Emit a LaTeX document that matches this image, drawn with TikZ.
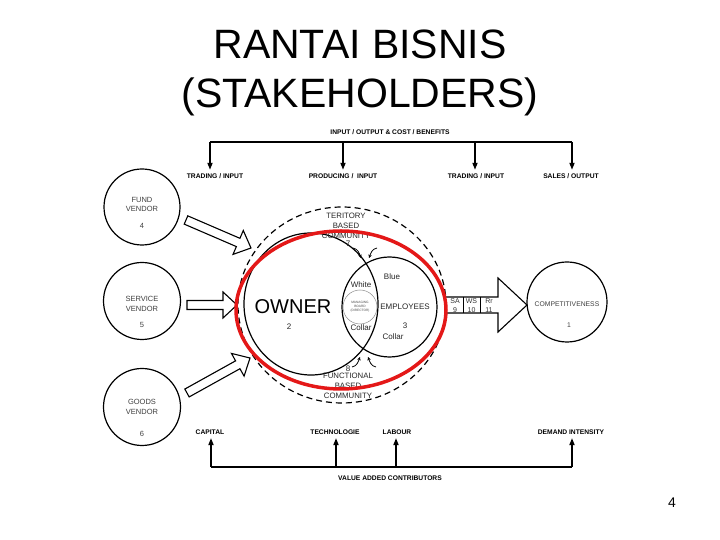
\documentclass[tikz,border=0pt]{standalone}
\usepackage{fontspec}
\setmainfont{Liberation Sans}
\usetikzlibrary{shapes.geometric,arrows.meta,calc}
\definecolor{redring}{RGB}{228,24,24}
\begin{document}
\begin{tikzpicture}[x=1pt,y=1pt,
  lbl/.style={font=\fontsize{6.7}{7}\selectfont\bfseries, inner sep=1pt},
  txt/.style={font=\fontsize{8}{9}\selectfont, inner sep=0pt, text=black!85},
  vtxt/.style={font=\fontsize{7.5}{9.5}\selectfont, text=black!75, inner sep=0pt, align=center},
  tiny/.style={font=\fontsize{3.2}{3.8}\selectfont, text=black!70, inner sep=0pt, align=center},
  ring/.style={draw, line width=1.2pt},
  conn/.style={line width=1.6pt},
  arr/.style={conn, -{Triangle[length=7pt,width=5pt]}, shorten >=2.5pt},
  blk/.style={draw, line width=1.1pt, fill=white, line join=miter},
  curl/.style={line width=0.8pt, -{Stealth[length=3.5pt,width=3.5pt]}},
]
\useasboundingbox (0,0) rectangle (720,540);
\fill[white] (0,0) rectangle (720,540);

% title
\node[font=\fontsize{41}{44}\selectfont, anchor=base, inner sep=0pt] (title1) at (360,481) {RANTAI BISNIS};
\node[font=\fontsize{41}{44}\selectfont, anchor=base, inner sep=0pt] (title2) at (360,432) {(STAKEHOLDERS)};
\node[font=\fontsize{14}{16}\selectfont] (page) at (672,37) {4};

% top connector
\node[lbl] (iocb) at (390,408) {INPUT / OUTPUT \& COST / BENEFITS};
\node[lbl] (ti1) at (215,364) {TRADING / INPUT};
\node[lbl] (ti2) at (343,364) {PRODUCING /\ \ INPUT};
\node[lbl] (ti3) at (476,364) {TRADING / INPUT};
\node[lbl] (ti4) at (571,364) {SALES / OUTPUT};
\coordinate (a1) at (210,398);
\coordinate (a2) at (343,398);
\coordinate (a3) at (475,398);
\coordinate (a4) at (572,398);
\draw[conn] (a1) -- (a4);
\draw[arr] (a1) -- (a1 |- ti1.north);
\draw[arr] (a2) -- (a2 |- ti2.north);
\draw[arr] (a3) -- (a3 |- ti3.north);
\draw[arr] (a4) -- (a4 |- ti4.north);

% bottom connector
\node[lbl] (bc1) at (210,108) {CAPITAL};
\node[lbl] (bc2) at (335,108) {TECHNOLOGIE};
\node[lbl] (bc3) at (397,108) {LABOUR};
\node[lbl] (bc4) at (571,108) {DEMAND INTENSITY};
\node[lbl] (vac) at (390,62) {VALUE ADDED CONTRIBUTORS};
\coordinate (b1) at (211,73);
\coordinate (b2) at (336,73);
\coordinate (b3) at (396,73);
\coordinate (b4) at (572,73);
\draw[conn] (b1) -- (b4);
\draw[arr] (b1) -- (b1 |- bc1.south);
\draw[arr] (b2) -- (b2 |- bc2.south);
\draw[arr] (b3) -- (b3 |- bc3.south);
\draw[arr] (b4) -- (b4 |- bc4.south);

% vendors
\node[ring, circle, minimum size=76pt] (fund) at (142,333) {};
\node[vtxt] (fundt) at (142,335.5) {FUND\\VENDOR};
\node[vtxt] (fundn) at (142,314) {4};
\node[ring, circle, minimum size=77pt] (serv) at (142,239) {};
\node[vtxt] (servt) at (142,236) {SERVICE\\VENDOR};
\node[vtxt] (servn) at (142,215) {5};
\node[ring, circle, minimum size=77pt] (goods) at (142,133) {};
\node[vtxt] (goodst) at (142,133) {GOODS\\VENDOR};
\node[vtxt] (goodsn) at (142,106) {6};

% block arrows from vendors
\coordinate (fA) at (186,320); \coordinate (fB) at (251,292);
\coordinate (sA) at (187,235); \coordinate (sB) at (237,235);
\coordinate (gA) at (187,147); \coordinate (gB) at (250,182);
\foreach \A/\B in {fA/fB, sA/sB, gA/gB}{
  \coordinate (H) at ($(\B)!14pt!(\A)$);
  \draw[blk] ($(\A)!4.5pt!90:(\B)$) -- ($(H)!4.5pt!90:(\B)$) -- ($(H)!13pt!90:(\B)$)
    -- (\B) -- ($(H)!13pt!-90:(\B)$) -- ($(H)!4.5pt!-90:(\B)$) -- ($(\A)!4.5pt!-90:(\B)$) -- cycle;
}

% owner / employees
\node[ring, ellipse, minimum width=134pt, minimum height=142pt] (owner) at (311,236) {};
\node[ring, ellipse, minimum width=95pt, minimum height=100pt] (empl) at (389.5,233) {};
\node[draw=black!45, line width=0.5pt, circle, minimum size=34pt] (board) at (360,233) {};
\node[tiny] (boardt) at (360,233) {MANAGING\\BOARD\\(DIRECTOR)};

\node[font=\fontsize{20}{22}\selectfont, inner sep=0pt] (ownert) at (293,233) {OWNER};
\node[txt] (ownern) at (289,213) {2};
\node[txt] (emplt) at (405,233) {EMPLOYEES};
\node[txt] (blue) at (392,263) {Blue};
\node[txt] (empln) at (405,214) {3};
\node[txt] (collar2) at (393,203) {Collar};
\node[txt] (white) at (361,255) {White};
\node[txt] (collar1) at (361,212) {Collar};

% communities
\node[txt, align=center, font=\fontsize{7.8}{10}\selectfont] (terit) at (346,314) {TERITORY\\BASED\\COMMUNITY};
\node[txt] (terin) at (348,296) {7};
\node[txt] (funcn) at (348,171) {8};
\node[txt, align=center, font=\fontsize{7.8}{10}\selectfont] (func) at (348,154) {FUNCTIONAL\\BASED\\COMMUNITY};

% small curled arrows at the crossings
\coordinate (xt1) at (361,282);
\coordinate (xt2) at (369,282);
\coordinate (xb1) at (360,183);
\coordinate (xb2) at (368,183);
\draw[curl] (353,292) to[out=-10,in=110] (xt1);
\draw[curl] (377,292) to[out=190,in=70] (xt2);
\draw[curl] (352,173) to[out=10,in=-110] (xb1);
\draw[curl] (376,173) to[out=170,in=-70] (xb2);

% dashed community ring
\node[draw, line width=1.2pt, dash pattern=on 6pt off 4pt, ellipse, minimum width=208pt, minimum height=196pt] (comm) at (342,235) {};

% output arrow with SA / WS / Rr
\coordinate (oT) at (527,235);
\draw[blk] (445,243) -- (498,243) -- (498,262) -- (oT) -- (498,208) -- (498,227) -- (445,227);
\draw[line width=1pt] (463,243) -- (463,227) (480,243) -- (480,227);
\node[font=\fontsize{7}{8}\selectfont, inner sep=0pt, text=black!80] (sa) at (455,239) {SA};
\node[font=\fontsize{7}{8}\selectfont, inner sep=0pt, text=black!80] (san) at (455,230) {9};
\node[font=\fontsize{7}{8}\selectfont, inner sep=0pt, text=black!80] (ws) at (471.5,239) {WS};
\node[font=\fontsize{7}{8}\selectfont, inner sep=0pt, text=black!80] (wsn) at (471.5,230) {10};
\node[font=\fontsize{7}{8}\selectfont, inner sep=0pt, text=black!80] (rr) at (489,239) {Rr};
\node[font=\fontsize{7}{8}\selectfont, inner sep=0pt, text=black!80] (rrn) at (489,230) {11};

% competitiveness
\node[ring, circle, minimum size=80pt] (comp) at (567,238) {};
\node[font=\fontsize{6.8}{8}\selectfont, inner sep=0pt, text=black!75] (compt) at (567,236) {COMPETITIVENESS};
\node[font=\fontsize{6.8}{8}\selectfont, inner sep=0pt, text=black!75] (compn) at (569,215) {1};

% red ring
\node[draw=redring, line width=3.5pt, ellipse, minimum width=210pt, minimum height=158pt] (redring) at (341,230) {};
\end{tikzpicture}
\end{document}
